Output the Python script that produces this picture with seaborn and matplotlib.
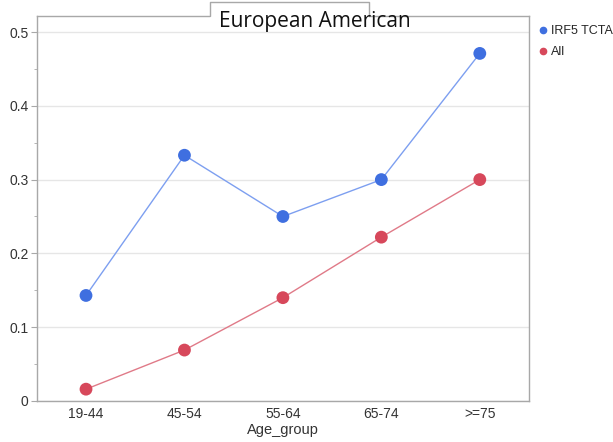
import pandas as pd
import numpy as np
import matplotlib.pyplot as plt
import matplotlib.patches as mpatches
from matplotlib.ticker import MultipleLocator
import seaborn as sns

# Data
age_groups = ["19-44", "45-54", "55-64", "65-74", ">=75"]
irf5_tcta = [0.143, 0.333, 0.250, 0.300, 0.471]
all_vals = [0.016, 0.069, 0.140, 0.222, 0.300]
series_names = ["IRF5 TCTA", "All"]

df = pd.DataFrame({
    "Age_group": age_groups * 2,
    "value": irf5_tcta + all_vals,
    "series": [series_names[0]] * 5 + [series_names[1]] * 5,
})

sns.set_style("white")
plt.rcParams['font.family'] = ['Liberation Sans', 'DejaVu Sans']

palette = {"IRF5 TCTA": "#3f6fe0", "All": "#d7485b"}
line_colors = {"IRF5 TCTA": "#7d9ff0", "All": "#e07a88"}

fig = plt.figure(figsize=(6.13, 4.42), dpi=100)
ax = fig.add_axes([0.060, 0.0928, 0.803, 0.871])

# thin lighter lines, then big dots on top
for name in series_names:
    sub = df[df["series"] == name]
    sns.lineplot(data=sub, x="Age_group", y="value", ax=ax, color=line_colors[name],
                 linewidth=1.0, sort=False, legend=False)
sns.scatterplot(data=df, x="Age_group", y="value", hue="series", palette=palette,
                s=85, edgecolor="none", ax=ax, legend=False, zorder=3)

ax.set_xlim(-0.5, 4.5)
ax.set_ylim(0, 0.5217)
ax.yaxis.set_major_locator(MultipleLocator(0.1))
ax.yaxis.set_minor_locator(MultipleLocator(0.05))
ax.set_yticks([0, 0.1, 0.2, 0.3, 0.4, 0.5])
ax.set_yticklabels(["0", "0.1", "0.2", "0.3", "0.4", "0.5"])
ax.grid(axis="y", color="#e6e6e6", linewidth=1)
ax.set_axisbelow(True)
for s in ax.spines.values():
    s.set_color("#a8a8a8")
    s.set_linewidth(1)
ax.tick_params(axis="y", which="major", left=True, length=4, color="#a8a8a8",
               labelsize=10, labelcolor="#333333", pad=2)
ax.tick_params(axis="y", which="minor", left=True, length=2, color="#a8a8a8")
ax.tick_params(axis="x", bottom=False, labelsize=10, labelcolor="#333333", pad=1)
ax.set_xlabel("Age_group", fontsize=10.5, color="#333333", labelpad=1)
ax.set_ylabel("")

# title tab on top of the plot frame (white box hides the spine under it)
x0, x1 = 210 / 613, 369 / 613
y_top, y_spine = 1 - 2 / 442, 1 - 16 / 442
fig.patches.append(mpatches.Rectangle((x0, y_spine - 1.5 / 442), x1 - x0, y_top - y_spine + 1.5 / 442,
                                      transform=fig.transFigure, facecolor="white",
                                      edgecolor="none", zorder=5))
fig.lines.append(plt.Line2D([x0, x0, x1, x1], [y_spine, y_top, y_top, y_spine],
                            transform=fig.transFigure, color="#a8a8a8", linewidth=1, zorder=6))
fig.text(315 / 613, 1 - 27 / 442, "European American", ha="center", va="baseline",
         fontsize=15, family=["Open Sans", "DejaVu Sans"], color="#111111", zorder=7)

# legend outside right
handles = [plt.Line2D([], [], marker="o", linestyle="", markersize=4.5,
                      color=palette[n]) for n in series_names]
fig.legend(handles, series_names, loc="upper left", bbox_to_anchor=(532 / 613, 1 - 20 / 442),
           frameon=False, fontsize=9, handletextpad=0.1, handlelength=1.0,
           labelspacing=0.75, borderaxespad=0)

fig.savefig("out.png", dpi=100)
